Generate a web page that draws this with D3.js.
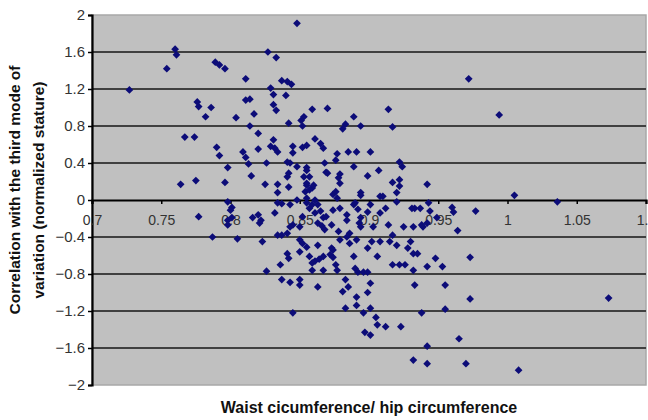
<!DOCTYPE html>
<html>
<head>
<meta charset="utf-8">
<script src="https://cdn.jsdelivr.net/npm/d3@7"></script>
<style>
  body { margin: 0; background: #fff; }
  text { font-family: "Liberation Sans", Arial, sans-serif; }
</style>
</head>
<body>
<div id="chart"></div>
<script>
/* global d3 */

// Values
const waistHip = [
  0.727, 0.754, 0.760, 0.761, 0.776, 0.777, 0.786, 0.782, 0.789, 0.792,
  0.796, 0.767, 0.774, 0.790, 0.792, 0.764, 0.775, 0.777, 0.787, 0.848,
  0.827, 0.833, 0.811, 0.837, 0.841, 0.844, 0.829, 0.831, 0.840, 0.811,
  0.814, 0.804, 0.817, 0.831, 0.833, 0.814, 0.820, 0.842, 0.852, 0.853,
  0.809, 0.811, 0.813, 0.820, 0.826, 0.831, 0.832, 0.834, 0.829, 0.845,
  0.845, 0.852, 0.855, 0.841, 0.848, 0.798, 0.815, 0.825, 0.834, 0.834,
  0.841, 0.842, 0.796, 0.853, 0.855, 0.854, 0.798, 0.801, 0.848, 0.843,
  0.834, 0.859, 0.870, 0.851, 0.889, 0.894, 0.883, 0.881, 0.914, 0.917,
  0.972, 0.861, 0.865, 0.867, 0.885, 0.891, 0.901, 0.877, 0.876, 0.868,
  0.869, 0.889, 0.899, 0.907, 0.879, 0.878, 0.922, 0.924, 0.922, 0.917,
  0.922, 0.942, 0.920, 0.855, 0.857, 0.855, 0.859, 0.894, 0.908, 0.910,
  0.874, 0.877, 0.960, 0.943, 0.933, 0.937, 0.889, 0.901, 0.855, 0.859,
  0.994, 1.005, 1.036, 0.944, 0.961, 0.977, 0.964, 0.949, 0.939, 0.973,
  0.948, 0.942, 0.953, 0.955, 0.973, 0.938, 0.955, 1.073, 0.965, 0.942,
  0.942, 0.970, 1.008, 0.798, 0.798, 0.816, 0.820, 0.821, 0.832, 0.837,
  0.845, 0.852, 0.855, 0.857, 0.861, 0.865, 0.867, 0.863, 0.866, 0.868,
  0.873, 0.874, 0.879, 0.884, 0.892, 0.894, 0.893, 0.878, 0.886, 0.899,
  0.908, 0.914, 0.917, 0.925, 0.938, 0.942, 0.805, 0.823, 0.834, 0.837,
  0.841, 0.850, 0.852, 0.863, 0.873, 0.879, 0.886, 0.891, 0.902, 0.908,
  0.899, 0.915, 0.920, 0.930, 0.928, 0.932, 0.935, 0.841, 0.842, 0.836,
  0.857, 0.859, 0.861, 0.859, 0.867, 0.872, 0.874, 0.876, 0.877, 0.867,
  0.889, 0.890, 0.892, 0.896, 0.899, 0.906, 0.917, 0.922, 0.926, 0.932,
  0.826, 0.837, 0.843, 0.850, 0.850, 0.863, 0.883, 0.885, 0.881, 0.891,
  0.899, 0.901, 0.933, 0.845, 0.883, 0.891, 0.896, 0.901, 0.905, 0.906,
  0.912, 0.923, 0.897, 0.901, 0.932, 0.800, 0.801, 0.822, 0.843, 0.842,
  0.855, 0.860, 0.857, 0.861, 0.863, 0.869, 0.876, 0.879, 0.870, 0.894,
  0.890, 0.884, 0.912, 0.920, 0.931, 0.932, 0.903, 0.894, 0.884, 0.843,
  0.850, 0.855, 0.850, 0.864, 0.874
]
const correlation = [
  1.19, 1.42, 1.63, 1.57, 1.06, 1.01, 1.00, 0.90, 1.49, 1.46,
  1.42, 0.68, 0.68, 0.57, 0.48, 0.17, 0.21, -0.18, -0.40, 1.91,
  1.60, 1.54, 1.31, 1.29, 1.28, 1.25, 1.21, 1.14, 1.13, 1.08,
  1.09, 0.89, 0.93, 1.03, 0.97, 0.80, 0.72, 0.83, 0.80, 0.90,
  0.52, 0.46, 0.39, 0.55, 0.40, 0.65, 0.56, 0.52, 0.58, 0.58,
  0.51, 0.57, 0.59, 0.41, 0.36, 0.35, 0.26, 0.17, 0.17, 0.08,
  0.25, 0.14, 0.19, 0.25, 0.16, 0.09, -0.02, -0.08, 0.00, -0.05,
  -0.03, 0.98, 0.99, 0.86, 0.90, 0.80, 0.82, 0.77, 0.98, 0.79,
  1.31, 0.66, 0.61, 0.56, 0.52, 0.52, 0.52, 0.50, 0.43, 0.40,
  0.30, 0.36, 0.26, 0.32, 0.28, 0.24, 0.41, 0.36, 0.22, 0.19,
  0.15, 0.17, 0.08, 0.35, 0.25, 0.18, 0.13, 0.08, 0.04, 0.04,
  0.06, 0.02, -0.08, -0.03, -0.09, -0.09, -0.05, -0.05, 0.02, -0.05,
  0.92, 0.05, -0.02, -0.12, -0.13, -0.12, -0.33, -0.19, -0.29, -0.62,
  -0.63, -0.72, -0.72, -0.92, -1.07, -1.22, -1.18, -1.06, -1.50, -1.58,
  -1.77, -1.77, -1.84, -0.22, -0.27, -0.19, -0.16, -0.25, -0.14, -0.04,
  -0.27, -0.18, -0.03, -0.09, -0.14, -0.12, -0.19, -0.25, -0.28, -0.32,
  -0.27, -0.11, -0.09, -0.16, -0.10, -0.19, -0.25, -0.34, -0.36, -0.13,
  -0.14, -0.27, -0.38, -0.29, -0.27, -0.25, -0.42, -0.45, -0.38, -0.38,
  -0.36, -0.43, -0.47, -0.49, -0.52, -0.43, -0.47, -0.43, -0.45, -0.45,
  -0.52, -0.45, -0.49, -0.45, -0.52, -0.58, -0.58, -0.58, -0.63, -0.70,
  -0.61, -0.68, -0.66, -0.76, -0.61, -0.59, -0.54, -0.70, -0.76, -0.76,
  -0.61, -0.74, -0.78, -0.78, -0.78, -0.61, -0.70, -0.70, -0.70, -0.76,
  -0.77, -0.86, -0.89, -0.86, -0.92, -0.94, -0.86, -0.94, -0.99, -1.05,
  -1.00, -0.90, -0.92, -1.22, -1.17, -1.14, -1.22, -1.17, -1.27, -1.35,
  -1.37, -1.37, -1.43, -1.46, -1.73, -0.11, -0.19, -0.22, 0.40, 0.29,
  0.32, 0.16, 0.11, 0.00, -0.05, -0.18, 0.09, 0.18, 0.29, 0.05,
  -0.03, -0.22, -0.09, -0.02, -0.09, -0.29, -0.29, -0.29, -0.40, -0.29,
  -0.29, -0.51, -0.56, -0.64, -0.62
]
const xTicks = [0.7, 0.75, 0.8, 0.85, 0.9, 0.95, 1, 1.05, 1.1]
const yTicks = [-2, -1.6, -1.2, -0.8, -0.4, 0, 0.4, 0.8, 1.2, 1.6, 2]
const xTitle = 'Waist cicumference/ hip circumference'
const yTitle = ['Correlation with the third mode of', 'variation (normalized stature)']

// Our canvas
const width = 648,
  height = 420,
  plotLeft = 92,
  plotRight = 646,
  plotTop = 15,
  plotBottom = 385

let svg = d3.select('#chart')
  .append('svg')
  .attr('width', width)
  .attr('height', height)

let x = d3.scaleLinear().domain([0.7, 1.1]).range([plotLeft, plotRight])
let y = d3.scaleLinear().domain([-2, 2]).range([plotBottom, plotTop])

// grey plot area
svg.append('rect')
  .attr('x', plotLeft)
  .attr('y', plotTop)
  .attr('width', plotRight - plotLeft)
  .attr('height', plotBottom - plotTop)
  .attr('fill', '#c0c0c0')
  .attr('stroke', '#a8a8a8')
  .attr('stroke-width', 1.5)

// horizontal gridlines
svg.append('g')
  .selectAll('line')
  .data(yTicks.filter(d => d !== 0 && Math.abs(d) !== 2))
  .enter()
  .append('line')
  .attr('x1', plotLeft)
  .attr('x2', plotRight)
  .attr('y1', d => y(d))
  .attr('y2', d => y(d))
  .attr('stroke', '#404040')
  .attr('stroke-width', 1.8)

let fmt = d => String(d).replace('-', '\u2212')

// y axis
let gy = svg.append('g')
  .attr('transform', `translate(${plotLeft},0)`)
  .call(d3.axisLeft(y).tickValues(yTicks).tickSize(4).tickPadding(3).tickFormat(fmt))
gy.select('.domain').attr('stroke', '#000').attr('stroke-width', 2.2)
gy.selectAll('.tick line').attr('stroke', '#000').attr('stroke-width', 1.5)
gy.selectAll('.tick text')
  .attr('font-size', 15)
  .attr('fill', '#333')
  .style('font-family', '"Liberation Sans", Arial, sans-serif')

// x axis on the zero line
let gx = svg.append('g')
  .attr('transform', `translate(0,${y(0)})`)
  .call(d3.axisBottom(x).tickValues(xTicks).tickSize(4).tickPadding(11).tickFormat(fmt))
gx.select('.domain').attr('stroke', '#000').attr('stroke-width', 2.2)
gx.selectAll('.tick line').attr('stroke', '#000').attr('stroke-width', 1.5)
gx.selectAll('.tick text')
  .attr('font-size', 14)
  .attr('fill', '#333')
  .style('font-family', '"Liberation Sans", Arial, sans-serif')

// points
let points = waistHip.map((d, i) => ({ wh: d, c: correlation[i] }))
svg.append('g')
  .selectAll('path')
  .data(points)
  .enter()
  .append('path')
  .attr('d', d3.symbol(d3.symbolSquare, 30))
  .attr('transform', d => `translate(${x(d.wh)},${y(d.c)}) rotate(45)`)
  .attr('fill', '#0c0c78')

// axis titles
svg.append('text')
  .attr('x', (plotLeft + plotRight) / 2)
  .attr('y', 413)
  .attr('text-anchor', 'middle')
  .attr('font-size', 16)
  .attr('font-weight', 'bold')
  .attr('fill', '#111')
  .text(xTitle)

svg.append('g')
  .attr('transform', 'translate(0,190) rotate(-90)')
  .selectAll('text')
  .data(yTitle)
  .enter()
  .append('text')
  .attr('x', 0)
  .attr('y', (d, i) => 20 + i * 24)
  .attr('text-anchor', 'middle')
  .attr('font-size', 15.5)
  .attr('font-weight', 'bold')
  .attr('fill', '#111')
  .text(d => d)
</script>
</body>
</html>
